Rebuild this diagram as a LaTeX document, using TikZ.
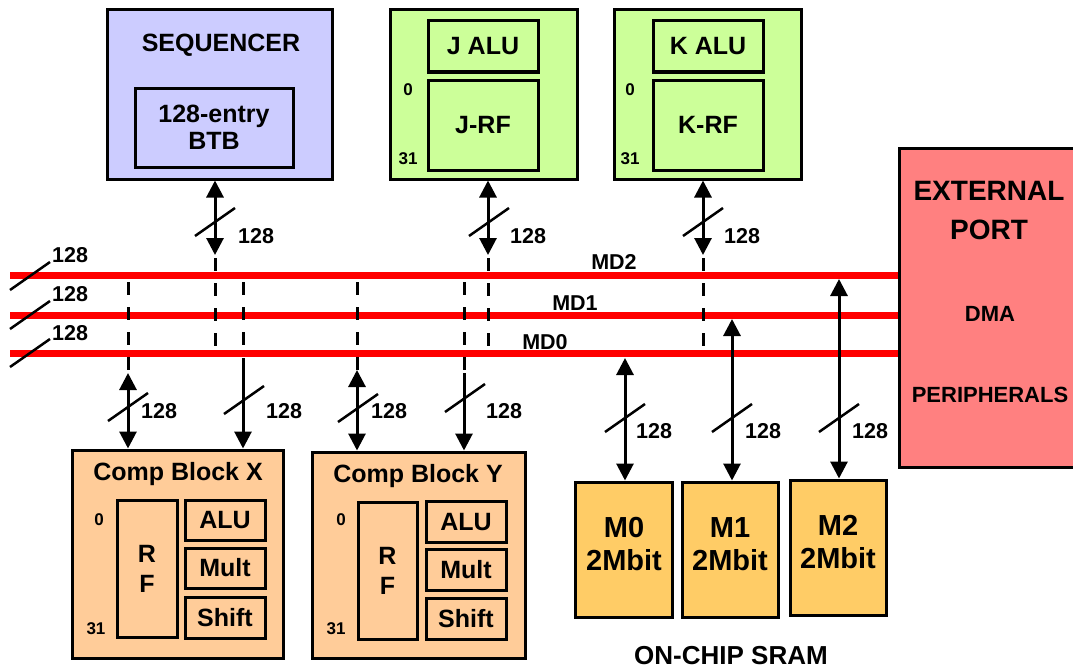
\documentclass[tikz,border=0pt]{standalone}
\usepackage{fontspec}
\setmainfont{Liberation Sans}
\usetikzlibrary{arrows.meta, positioning, calc}
\definecolor{seqblue}{HTML}{CCCCFF}
\definecolor{rfgreen}{HTML}{CCFF99}
\definecolor{compbg}{HTML}{FFCC99}
\definecolor{srambg}{HTML}{FFCC66}
\definecolor{portbg}{HTML}{FF8080}
\definecolor{busred}{HTML}{FF0000}
\tikzset{
    unit box/.style={
        draw,
        line width=3pt,
        inner sep=0pt,
        align=center,
        font=\bfseries\fontsize{25}{27}\selectfont
    },
    title text/.style={
        inner sep=0pt,
        align=center,
        font=\bfseries\fontsize{25}{27}\selectfont
    },
    index text/.style={
        inner sep=0pt,
        font=\bfseries\fontsize{17}{18}\selectfont
    },
    width text/.style={
        inner sep=0pt,
        anchor=west,
        font=\bfseries\fontsize{21.5}{24}\selectfont
    },
    bus line/.style={
        busred,
        line width=7pt
    },
    bus tap/.style={
        line width=3pt,
        dash pattern=on 13pt off 12pt
    },
    link/.style={
        line width=3pt,
        {Triangle[width=17pt,length=17pt]}-{Triangle[width=17pt,length=17pt]}
    },
    link out/.style={
        line width=3pt,
        -{Triangle[width=17pt,length=17pt]}
    },
    bus width/.pic={
        \draw[line width=2.5pt] (-20,14) -- (20,-14);
    }
}
\begin{document}
\begin{tikzpicture}[x=1pt, y=-1pt]
    \useasboundingbox (0,0) rectangle (1073,669);

    % Sequencer
    \node[unit box, fill=seqblue, minimum width=225, minimum height=169] (seq) at (220,94.5) {};
    \node[title text] (seqname) at (221,45) {SEQUENCER};
    \node[unit box, fill=seqblue, minimum width=158, minimum height=79] (btb) at (214,127.5) {128-entry\\BTB};

    % J and K units
    \node[unit box, fill=rfgreen, minimum width=187, minimum height=169] (jblk) at (483.5,94.5) {};
    \node[unit box, fill=rfgreen, minimum width=110, minimum height=51] (jalu) at (483,46.5) {J ALU};
    \node[unit box, fill=rfgreen, minimum width=110, minimum height=90] (jrf) at (483,125) {J-RF};
    \node[index text] (jtop) at (408,90) {0};
    \node[index text] (jbot) at (408,159) {31};

    \node[unit box, fill=rfgreen, minimum width=187, minimum height=169] (kblk) at (707.5,94.5) {};
    \node[unit box, fill=rfgreen, minimum width=110, minimum height=51] (kalu) at (708,46.5) {K ALU};
    \node[unit box, fill=rfgreen, minimum width=110, minimum height=90] (krf) at (708,125) {K-RF};
    \node[index text] (ktop) at (630,90) {0};
    \node[index text] (kbot) at (630,159) {31};

    % External port
    \node[unit box, fill=portbg, minimum width=182, minimum height=319] (ext) at (990,307.5) {};
    \node[inner sep=0pt, align=center, font=\bfseries\fontsize{28}{39}\selectfont] (extname) at (989,211) {EXTERNAL\\PORT};
    \node[inner sep=0pt, font=\bfseries\fontsize{22}{24}\selectfont] (dma) at (990,314) {DMA};
    \node[inner sep=0pt, font=\bfseries\fontsize{22}{24}\selectfont] (peri) at (990,395) {PERIPHERALS};

    % Computation blocks
    \node[unit box, fill=compbg, minimum width=211, minimum height=208] (cx) at (177.5,554) {};
    \node[title text] (cxname) at (178,474) {Comp Block X};
    \node[unit box, fill=compbg, minimum width=60, minimum height=137, font=\bfseries\fontsize{25}{30}\selectfont] (cxrf) at (147,568.5) {R\\F};
    \node[unit box, fill=compbg, minimum width=80, minimum height=40] (cxalu) at (225,520) {ALU};
    \node[unit box, fill=compbg, minimum width=80, minimum height=40] (cxmul) at (225,568) {Mult};
    \node[unit box, fill=compbg, minimum width=80, minimum height=41] (cxsh) at (225,617.5) {Shift};
    \node[index text] (cxtop) at (99,520) {0};
    \node[index text] (cxbot) at (96,629) {31};

    \node[unit box, fill=compbg, minimum width=213, minimum height=206] (cy) at (418.5,555) {};
    \node[title text] (cyname) at (418,476) {Comp Block Y};
    \node[unit box, fill=compbg, minimum width=59, minimum height=137, font=\bfseries\fontsize{25}{30}\selectfont] (cyrf) at (387.5,570.5) {R\\F};
    \node[unit box, fill=compbg, minimum width=80, minimum height=41] (cyalu) at (466,522) {ALU};
    \node[unit box, fill=compbg, minimum width=80, minimum height=41] (cymul) at (466,569.5) {Mult};
    \node[unit box, fill=compbg, minimum width=80, minimum height=41] (cysh) at (466,618.5) {Shift};
    \node[index text] (cytop) at (341,520) {0};
    \node[index text] (cybot) at (336,629) {31};

    % On-chip SRAM banks
    \node[unit box, fill=srambg, minimum width=97, minimum height=135] (m0) at (623.5,549.5) {};
    \node[unit box, fill=srambg, minimum width=96, minimum height=135] (m1) at (730,549.5) {};
    \node[unit box, fill=srambg, minimum width=96, minimum height=135] (m2) at (838,547.5) {};
    \node[title text, font=\bfseries\fontsize{29}{33}\selectfont] (m0name) at (624,544) {M0\\2Mbit};
    \node[title text, font=\bfseries\fontsize{29}{33}\selectfont] (m1name) at (730,544) {M1\\2Mbit};
    \node[title text, font=\bfseries\fontsize{29}{33}\selectfont] (m2name) at (838,542) {M2\\2Mbit};
    \node[title text, font=\bfseries\fontsize{26}{27}\selectfont] (sram) at (731,656) {ON-CHIP SRAM};

    % Buses
    \coordinate (md2) at (10,275.5);
    \coordinate (md1) at (10,315);
    \coordinate (md0) at (10,353.5);
    \draw[bus line] (md2) -- (md2 -| ext.west);
    \draw[bus line] (md1) -- (md1 -| ext.west);
    \draw[bus line] (md0) -- (md0 -| ext.west);
    \node[width text, anchor=center] (md2name) at (614,262) {MD2};
    \node[width text, anchor=center] (md1name) at (575,303) {MD1};
    \node[width text, anchor=center] (md0name) at (545,342) {MD0};
    \pic at (30,276) {bus width};
    \pic at (30,315) {bus width};
    \pic at (30,353) {bus width};
    \node[width text] at (52,255) {128};
    \node[width text] at (52,294) {128};
    \node[width text] at (52,333) {128};

    % Top connectors
    \coordinate (sqT) at (215,255);
    \coordinate (jT) at (488,255);
    \coordinate (kT) at (703,255);
    \draw[link] (seq.south -| sqT) -- (sqT);
    \draw[link] (jblk.south -| jT) -- (jT);
    \draw[link] (kblk.south -| kT) -- (kT);
    \draw[bus tap] ($(sqT)+(0,3)$) -- (sqT |- md0);
    \draw[bus tap] ($(jT)+(0,3)$) -- (jT |- md0);
    \draw[bus tap] ($(kT)+(0,3)$) -- (kT |- md0);
    \pic at (215,222) {bus width};
    \pic at (489,222) {bus width};
    \pic at (703,222) {bus width};
    \node[width text] at (238,236) {128};
    \node[width text] at (510,236) {128};
    \node[width text] at (724,236) {128};

    % Bottom connectors
    \coordinate (xaT) at (128,373);
    \coordinate (xbT) at (243,358);
    \coordinate (yaT) at (357,370);
    \coordinate (ybT) at (464,373);
    \draw[bus tap] (128,282) -- (xaT);
    \draw[bus tap] (243,282) -- (243,352);
    \draw[bus tap] (357,282) -- (yaT);
    \draw[bus tap] (464,282) -- (464,371);
    \draw[link] (cx.north -| xaT) -- (xaT);
    \draw[link out] (xbT) -- (cx.north -| xbT);
    \draw[link] (cy.north -| yaT) -- (yaT);
    \draw[link out] (ybT) -- (cy.north -| ybT);
    \pic at (128,407) {bus width};
    \pic at (244,400) {bus width};
    \pic at (358,408) {bus width};
    \pic at (465,398) {bus width};
    \node[width text] at (141,411) {128};
    \node[width text] at (266,411) {128};
    \node[width text] at (371,411) {128};
    \node[width text] at (486,411) {128};

    % SRAM connectors
    \coordinate (m0T) at (625,358);
    \coordinate (m1T) at (732,319);
    \coordinate (m2T) at (839,279);
    \draw[link] (m0.north -| m0T) -- (m0T);
    \draw[link] (m1.north -| m1T) -- (m1T);
    \draw[link] (m2.north -| m2T) -- (m2T);
    \pic at (625,418) {bus width};
    \pic at (732,418) {bus width};
    \pic at (839,418) {bus width};
    \node[width text] at (636,431) {128};
    \node[width text] at (745,431) {128};
    \node[width text] at (852,431) {128};
\end{tikzpicture}
\end{document}
